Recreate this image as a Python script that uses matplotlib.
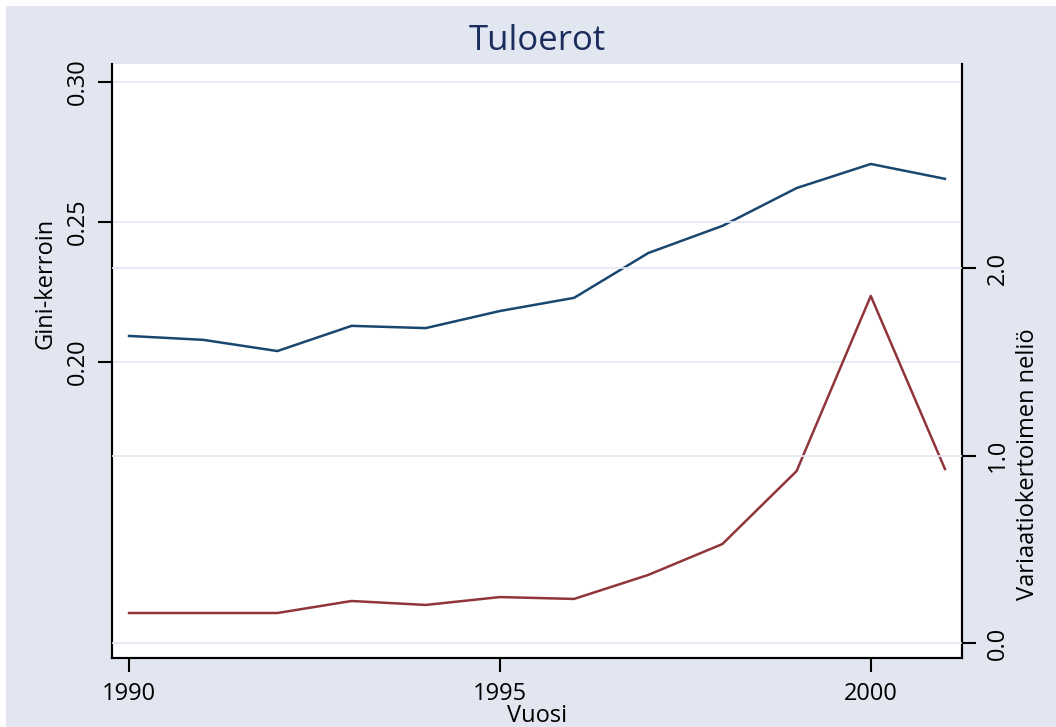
import numpy as np
import matplotlib
matplotlib.use("Agg")
from matplotlib import pyplot as plt
from matplotlib.patches import Rectangle

plt.rcParams['font.family'] = ['Open Sans', 'DejaVu Sans']

# data
years = [1990, 1991, 1992, 1993, 1994, 1995, 1996, 1997, 1998, 1999, 2000, 2001]
gini = [0.2093, 0.2079, 0.2039, 0.2129, 0.2121, 0.2182, 0.2229, 0.2389, 0.2486, 0.2621, 0.2707, 0.2654]
cv2 = [0.16, 0.16, 0.16, 0.224, 0.203, 0.245, 0.235, 0.363, 0.528, 0.917, 1.851, 0.928]

x_ticks = [1990, 1995, 2000]
left_ticks = [0.20, 0.25, 0.30]
right_ticks = [0.0, 1.0, 2.0]

bg = '#e1e6f0'
grid_col = '#e1e6f0'
blue = '#1a476f'
red = '#90353b'

fig = plt.figure(figsize=(10.56, 7.27), dpi=100, facecolor='white')
# bluish background, white strip top/left like the reference
fig.patches.append(Rectangle((6/1056, 0), 1, 1 - 6/727, transform=fig.transFigure,
                             facecolor=bg, edgecolor='none', zorder=-10))

ax = fig.add_axes([112/1056, (727-658)/727, (962-112)/1056, (658-64)/727])
ax.set_facecolor('white')
ax2 = ax.twinx()

ax.plot(years, gini, color=blue, lw=1.8, zorder=2)
ax2.plot(years, cv2, color=red, lw=1.8, zorder=2)

ax.set_xlim(1989.77, 2001.23)
ax.set_ylim(0.0943, 0.3064)
ax2.set_ylim(-0.08, 3.088)

ax.set_xticks(x_ticks)
ax.set_xticklabels([str(v) for v in x_ticks])
ax.set_yticks(left_ticks)
ax.set_yticklabels(['%.2f' % v for v in left_ticks], rotation=90, va='center')
ax2.set_yticks(right_ticks)
ax2.set_yticklabels(['%.1f' % v for v in right_ticks], rotation=90, va='center')

for a in (ax, ax2):
    a.grid(axis='y', color=grid_col, lw=1.2)
    a.set_axisbelow(False)
    a.spines['top'].set_visible(False)
    for s in ('left', 'right', 'bottom'):
        a.spines[s].set_linewidth(1.5)
    a.tick_params(direction='out', length=10, width=1.5, labelsize=17, colors='black')

ax.tick_params(axis='x', pad=7)
ax.tick_params(axis='y', pad=6)
ax2.tick_params(axis='y', pad=7)

ax.set_title('Tuloerot', fontsize=25, color='#1b2d5c', pad=10)
ax.set_xlabel('Vuosi', fontsize=17, va='center')
ax.xaxis.set_label_coords(0.5, -0.097)
ax.set_ylabel('Gini-kerroin', fontsize=17, va='center')
ax.yaxis.set_label_coords(-0.078, 0.63)
ax2.set_ylabel('Variaatiokertoimen neliö', fontsize=17, va='center')
ax2.yaxis.set_label_coords(1.078, 0.327)

fig.savefig('out.png', dpi=100, facecolor=fig.get_facecolor())
